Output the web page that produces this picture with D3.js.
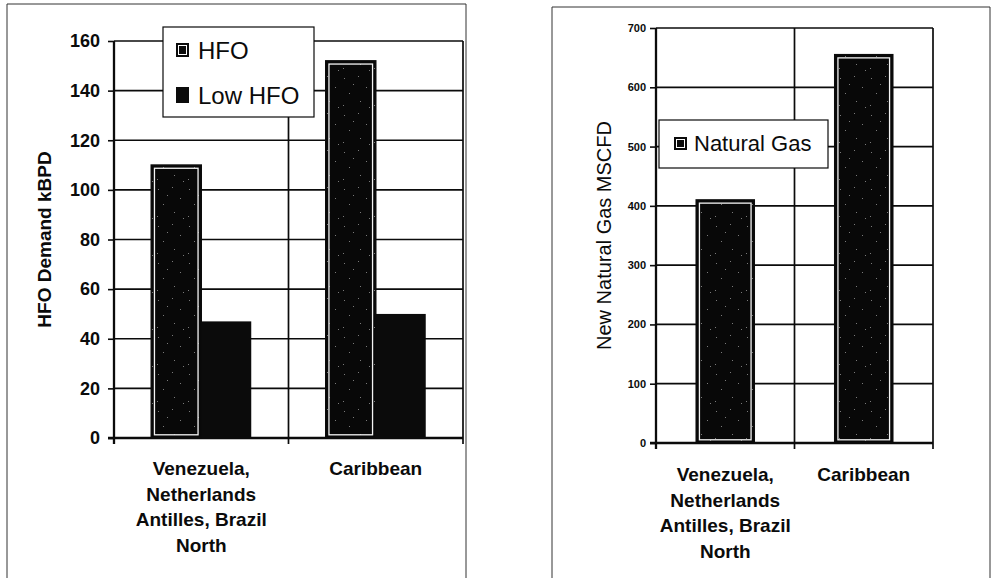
<!DOCTYPE html>
<html>
<head>
<meta charset="utf-8">
<script src="https://cdn.jsdelivr.net/npm/d3@7"></script>
<style>
  html, body { margin: 0; padding: 0; background: #fff; }
  svg { display: block; font-family: "Liberation Sans", Arial, sans-serif; }
</style>
</head>
<body>
<svg id="chart" width="992" height="578"></svg>
<script>
// ---- data ----
const regions = ["Venezuela, Netherlands Antilles, Brazil North", "Caribbean"];
const regionLines = [["Venezuela,", "Netherlands", "Antilles, Brazil", "North"], ["Caribbean"]];
const hfoSeries = ["HFO", "Low HFO"];
const hfoDemand = [110, 152];      // kBPD
const lowHfoDemand = [47, 50];     // kBPD
const hfoTicks = [0, 20, 40, 60, 80, 100, 120, 140, 160];
const gasSeries = ["Natural Gas"];
const gasDemand = [410, 655];      // MSCFD
const gasTicks = [0, 100, 200, 300, 400, 500, 600, 700];

const svg = d3.select("#chart");
const INK = "#0b0b0b";

// speckled dark fill used by the patterned bars
const defs = svg.append("defs");
const pat = defs.append("pattern").attr("id", "speckle")
  .attr("patternUnits", "userSpaceOnUse").attr("width", 31).attr("height", 37);
pat.append("rect").attr("width", 31).attr("height", 37).attr("fill", "#080808");
[[3,4],[17,2],[25,13],[8,19],[19,27],[2,31],[28,33],[12,10]].forEach(([cx, cy]) =>
  pat.append("rect").attr("x", cx).attr("y", cy).attr("width", 1).attr("height", 1)
    .attr("fill", "#7a7a7a"));

function patternedBar(g, x, y, w, h) {
  g.append("rect").attr("x", x).attr("y", y).attr("width", w).attr("height", h)
    .attr("fill", "url(#speckle)").attr("stroke", INK).attr("stroke-width", 1.5);
  if (w > 8 && h > 8) {
    g.append("rect").attr("x", x + 3.2).attr("y", y + 3.2)
      .attr("width", w - 6.4).attr("height", h - 6.4)
      .attr("fill", "none").attr("stroke", "#f4f4f4").attr("stroke-width", 1.3);
  }
}

function legendSwatch(g, x, y, w, h) {
  g.append("rect").attr("x", x).attr("y", y).attr("width", w).attr("height", h).attr("fill", INK);
  g.append("rect").attr("x", x + 2.5).attr("y", y + 2.5).attr("width", w - 5).attr("height", h - 5)
    .attr("fill", "none").attr("stroke", "#fff").attr("stroke-width", 1);
}

function drawPanel(opt) {
  const g = svg.append("g");
  // outer frame of the panel
  g.append("path")
    .attr("d", `M${opt.frame[0]},600 V${opt.frame[1]} H${opt.frame[2]} V600`)
    .attr("fill", "none").attr("stroke", "#333").attr("stroke-width", 1);

  const x = d3.scaleBand().domain(regions)
    .range([opt.left, opt.right])
    .paddingInner(opt.padInner).paddingOuter(opt.padInner / 2);
  const y = d3.scaleLinear().domain(opt.domain).range([opt.bottom, opt.top]);

  // horizontal gridlines
  g.append("g").selectAll("line").data(opt.ticks).join("line")
    .attr("x1", opt.left).attr("x2", opt.right)
    .attr("y1", d => y(d)).attr("y2", d => y(d))
    .attr("stroke", INK).attr("stroke-width", 1.7);
  // category dividers (with tick marks below the axis)
  const step = x.step();
  const dividers = [opt.left, opt.left + step, opt.right];
  g.append("g").selectAll("line").data(dividers).join("line")
    .attr("x1", d => d).attr("x2", d => d)
    .attr("y1", opt.top).attr("y2", opt.bottom + 6)
    .attr("stroke", INK).attr("stroke-width", (d, i) => i === 0 ? 2.3 : 1.7);
  // axis line
  g.append("line").attr("x1", opt.left - 6).attr("x2", opt.right)
    .attr("y1", opt.bottom).attr("y2", opt.bottom)
    .attr("stroke", INK).attr("stroke-width", 2.3);

  // y axis ticks and labels
  const yAxis = d3.axisLeft(y).tickValues(opt.ticks).tickSize(6).tickPadding(opt.tickPad);
  const ya = g.append("g").attr("transform", `translate(${opt.left},0)`).call(yAxis);
  ya.select(".domain").remove();
  ya.selectAll(".tick line").attr("stroke", INK).attr("stroke-width", 1.6);
  ya.selectAll(".tick text")
    .attr("font-family", "Liberation Sans, Arial, sans-serif")
    .attr("font-size", opt.tickFont).attr("font-weight", "bold").attr("fill", INK);

  // y title
  g.append("text")
    .attr("transform", `translate(${opt.titleX},${(opt.top + opt.bottom) / 2}) rotate(-90)`)
    .attr("text-anchor", "middle")
    .attr("font-size", opt.titleFont).attr("font-weight", opt.titleWeight)
    .attr("fill", INK).text(opt.title);

  // category labels
  regions.forEach((r, i) => {
    const t = g.append("text").attr("text-anchor", "middle")
      .attr("font-size", 19).attr("font-weight", "bold").attr("fill", INK);
    regionLines[i].forEach((line, j) => {
      t.append("tspan").attr("x", x(r) + x.bandwidth() / 2)
        .attr("y", opt.labelY + j * 25.7).text(line);
    });
  });

  return { g, x, y };
}

// ---------- left panel: HFO demand ----------
const L = drawPanel({
  frame: [7, 4, 466], left: 114, right: 463, top: 41, bottom: 438,
  padInner: 0.427, domain: [0, 160], ticks: hfoTicks, tickPad: 8, tickFont: 18,
  title: "HFO Demand kBPD", titleX: 51, titleFont: 19, titleWeight: "bold",
  labelY: 475
});
const xs = d3.scaleBand().domain(hfoSeries).range([0, L.x.bandwidth()]);
regions.forEach((r, i) => {
  const x0 = L.x(r);
  const w = xs.bandwidth();
  patternedBar(L.g, x0 + xs("HFO"), L.y(hfoDemand[i]), w, L.y(0) - L.y(hfoDemand[i]));
  L.g.append("rect").attr("x", x0 + xs("Low HFO")).attr("y", L.y(lowHfoDemand[i]))
    .attr("width", w).attr("height", L.y(0) - L.y(lowHfoDemand[i]))
    .attr("fill", INK);
});
// legend
const lg = L.g.append("g");
lg.append("rect").attr("x", 163).attr("y", 27).attr("width", 151).attr("height", 90)
  .attr("fill", "#fff").attr("stroke", INK).attr("stroke-width", 1.2);
hfoSeries.forEach((s, i) => {
  const cy = 50 + i * 45;
  if (i === 0) legendSwatch(lg, 176, cy - 7, 13, 14);
  else lg.append("rect").attr("x", 176).attr("y", cy - 8).attr("width", 13).attr("height", 16).attr("fill", INK);
  lg.append("text").attr("x", 198).attr("y", cy + 8.5).attr("font-size", 24)
    .attr("fill", INK).text(s);
});

// ---------- right panel: natural gas ----------
const R = drawPanel({
  frame: [552, 7, 990], left: 656, right: 933, top: 28, bottom: 443,
  padInner: 0.581, domain: [0, 700], ticks: gasTicks, tickPad: 4, tickFont: 11,
  title: "New Natural Gas MSCFD", titleX: 611, titleFont: 20, titleWeight: "normal",
  labelY: 481
});
regions.forEach((r, i) => {
  patternedBar(R.g, R.x(r), R.y(gasDemand[i]), R.x.bandwidth(), R.y(0) - R.y(gasDemand[i]));
});
const rg = R.g.append("g");
rg.append("rect").attr("x", 659).attr("y", 120).attr("width", 169).attr("height", 48)
  .attr("fill", "#fff").attr("stroke", INK).attr("stroke-width", 1.2);
legendSwatch(rg, 674, 137, 13, 13);
rg.append("text").attr("x", 694).attr("y", 151).attr("font-size", 22)
  .attr("fill", INK).text(gasSeries[0]);
</script>
</body>
</html>
